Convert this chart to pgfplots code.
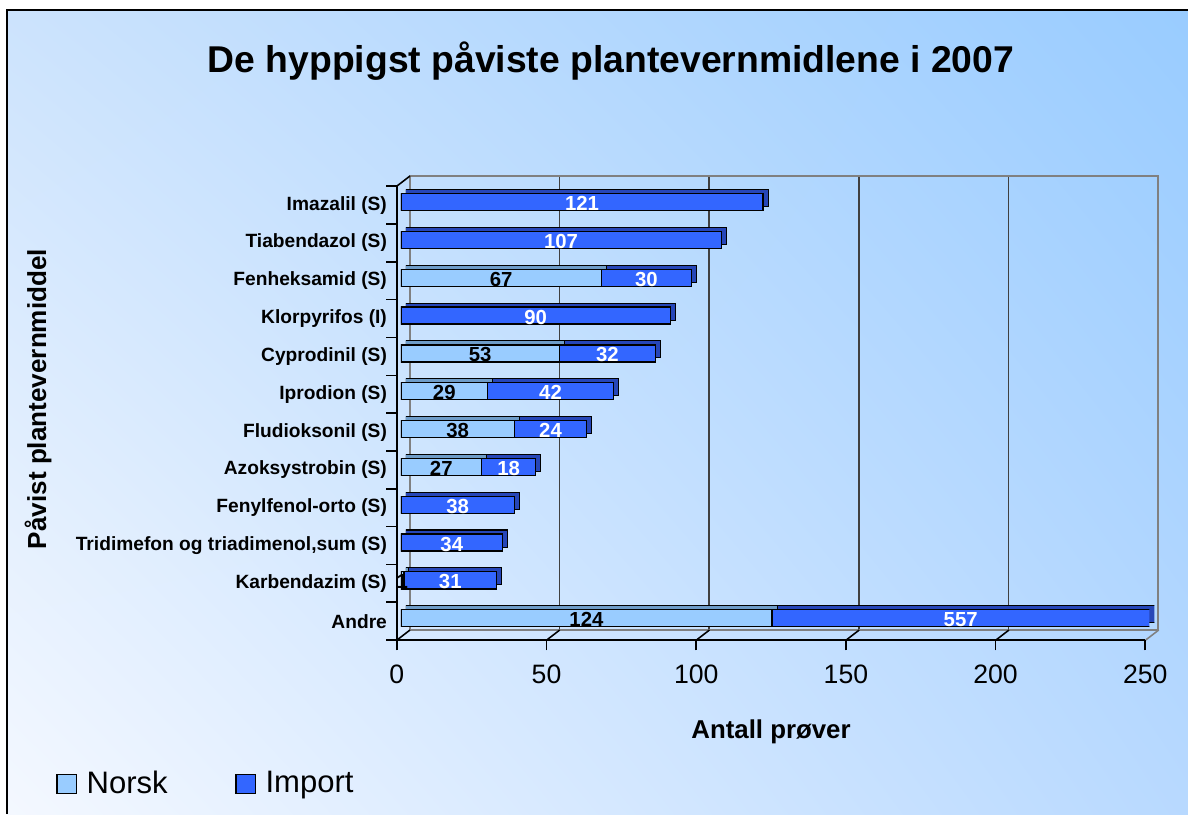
\documentclass[border=0pt]{standalone}
\usepackage{pgfplots}
\pgfplotsset{compat=1.18}
\usepackage{pgfplotstable}
\usetikzlibrary{shadings}
\usepackage{fontspec}
\setmainfont{Liberation Sans}

\definecolor{norsk}{HTML}{99CCFF}
\definecolor{import}{HTML}{3366FF}
\definecolor{norskdark}{HTML}{6E9CC8}
\definecolor{importdark}{HTML}{2646B8}
\definecolor{bgtr}{HTML}{99CCFF}
\definecolor{bgtl}{HTML}{CCE3FD}
\definecolor{bgbl}{HTML}{F4F8FF}
\definecolor{bgbr}{HTML}{B8D9FF}
\definecolor{wallgray}{HTML}{808080}

% y: 0 = Andre (bottom) ... 11 = Imazalil (top); n = Norsk, i = Import
\pgfplotstableread{
y  n    i
11 0    121
10 0    107
9  67   30
8  0    90
7  53   32
6  29   42
5  38   24
4  27   18
3  0    38
2  0    34
1  1    31
0  124  557
}\data

\def\s{0.013468cm}
\pgfplotsset{
  chartbox/.style={
    anchor=south west, scale only axis,
    width=10.0835cm, height=6.1145cm,
    xmin=0, xmax=250, ymin=-0.5, ymax=11.5,
  },
}

\begin{document}
\begin{tikzpicture}
\useasboundingbox (0,0) rectangle ({1188*\s},{814*\s});
\fill[white] (0,0) rectangle ({1188*\s},{814*\s});
\shade[upper left=bgtl, upper right=bgtr, lower left=bgbl, lower right=bgbr]
  ({7*\s},0) rectangle ({1188*\s},{804*\s});
\draw[black, line width=0.8pt] ({7*\s},0) -- ({7*\s},{804*\s}) -- ({1188*\s},{804*\s});

% back wall with gridlines
\begin{axis}[chartbox, at={(5.5219cm,2.4781cm)},
  axis line style={wallgray, line width=0.6pt},
  xtick={50,100,...,200}, ytick=\empty, xticklabels={},
  major tick length=0pt,
  xmajorgrids, grid style={black!75, line width=0.6pt}]
\end{axis}

% bar depth
\begin{axis}[chartbox, at={(5.4680cm,2.4377cm)}, hide axis,
  xbar stacked, bar width=0.45]
\addplot[fill=norskdark, draw=black, line width=0.4pt] table[x=n, y=y]{\data};
\addplot[fill=importdark, draw=black, line width=0.4pt] table[x=i, y=y]{\data};
\end{axis}

% bar front faces
\begin{axis}[chartbox, at={(5.4007cm,2.3838cm)}, hide axis,
  xbar stacked, bar width=0.45]
\addplot[fill=norsk, draw=black, line width=0.5pt] table[x=n, y=y]{\data};
\addplot[fill=import, draw=black, line width=0.5pt] table[x=i, y=y]{\data};
\end{axis}

% floor edges
\foreach \v in {0,50,100,150,200}
  \draw[black, line width=0.6pt] ({(397+\v*2.9948)*\s},{174*\s}) -- ++({13*\s},{10*\s});
\draw[wallgray, line width=0.6pt] ({(397+250*2.9948)*\s},{174*\s}) -- ++({13*\s},{10*\s});
\draw[black, line width=0.6pt] ({397*\s},{628*\s}) -- ++({13*\s},{10*\s});

% front axes, tick labels, value labels, legend
\begin{axis}[chartbox, at={(5.3468cm,2.3434cm)},
  axis x line*=bottom, axis y line*=left,
  axis line style={black, line width=0.6pt, -},
  tick align=outside, tick pos=left,
  major tick length=0.14cm,
  tick style={black, line width=0.6pt},
  xtick={0,50,...,250},
  /pgf/number format/assume math mode=true,
  xticklabel style={font=\fontsize{10.2}{12}\selectfont, yshift=-2pt},
  ytick={-0.5,0.5,...,11.5}, yticklabels={},
  extra y ticks={0,1,...,11},
  extra y tick labels={Andre, Karbendazim (S), {Tridimefon og triadimenol,sum (S)},
    Fenylfenol-orto (S), Azoksystrobin (S), Fludioksonil (S), Iprodion (S),
    Cyprodinil (S), Klorpyrifos (I), Fenheksamid (S), Tiabendazol (S), Imazalil (S)},
  extra y tick style={tick style={draw=none},
    yticklabel style={font=\bfseries\fontsize{7.35}{8.5}\selectfont, xshift=0.13cm}},
  legend image code/.code={\draw[#1] (0cm,-0.13cm) rectangle (0.26cm,0.13cm);
    \path (0.32cm,0cm);},
  legend style={at={(axis description cs:-0.466,-0.317)}, anchor=west,
    draw=none, fill=none, legend columns=2,
    font=\fontsize{11.9}{14}\selectfont,
    /tikz/every even column/.append style={column sep=0.84cm}},
]
\addlegendimage{fill=norsk, draw=black, line width=0.5pt}
\addlegendentry{Norsk}
\addlegendimage{fill=import, draw=black, line width=0.5pt}
\addlegendentry{Import}
\addplot[draw=none, mark=none, forget plot,
  nodes near coords={\ifnum\pgfplotspointmeta>0 \pgfplotspointmeta\fi},
  point meta=explicit symbolic,
  every node near coord/.append style={anchor=center, text=black,
    font=\bfseries\fontsize{7.8}{9}\selectfont, xshift=0.054cm, yshift=0.02cm}]
  table[x expr={\thisrow{n}/2}, y=y, meta=n]{\data};
\addplot[draw=none, mark=none, forget plot,
  nodes near coords={\pgfplotspointmeta},
  point meta=explicit symbolic,
  every node near coord/.append style={anchor=center, text=white,
    font=\bfseries\fontsize{7.8}{9}\selectfont, xshift=0.054cm, yshift=0.02cm}]
  table[x expr={\thisrow{n}+(min(\thisrow{n}+\thisrow{i},250)-\thisrow{n})/2}, y=y, meta=i]{\data};
\end{axis}

% titles
\node[anchor=base, font=\bfseries\fontsize{14.3}{17}\selectfont]
  at ({611*\s},{741*\s}) {De hyppigst påviste plantevernmidlene i 2007};
\node[anchor=base, font=\bfseries\fontsize{9.9}{12}\selectfont]
  at ({771*\s},{76*\s}) {Antall prøver};
\node[rotate=90, anchor=center, font=\bfseries\fontsize{10}{12}\selectfont]
  at ({38*\s},{415*\s}) {Påvist plantevernmiddel};
\end{tikzpicture}
\end{document}
